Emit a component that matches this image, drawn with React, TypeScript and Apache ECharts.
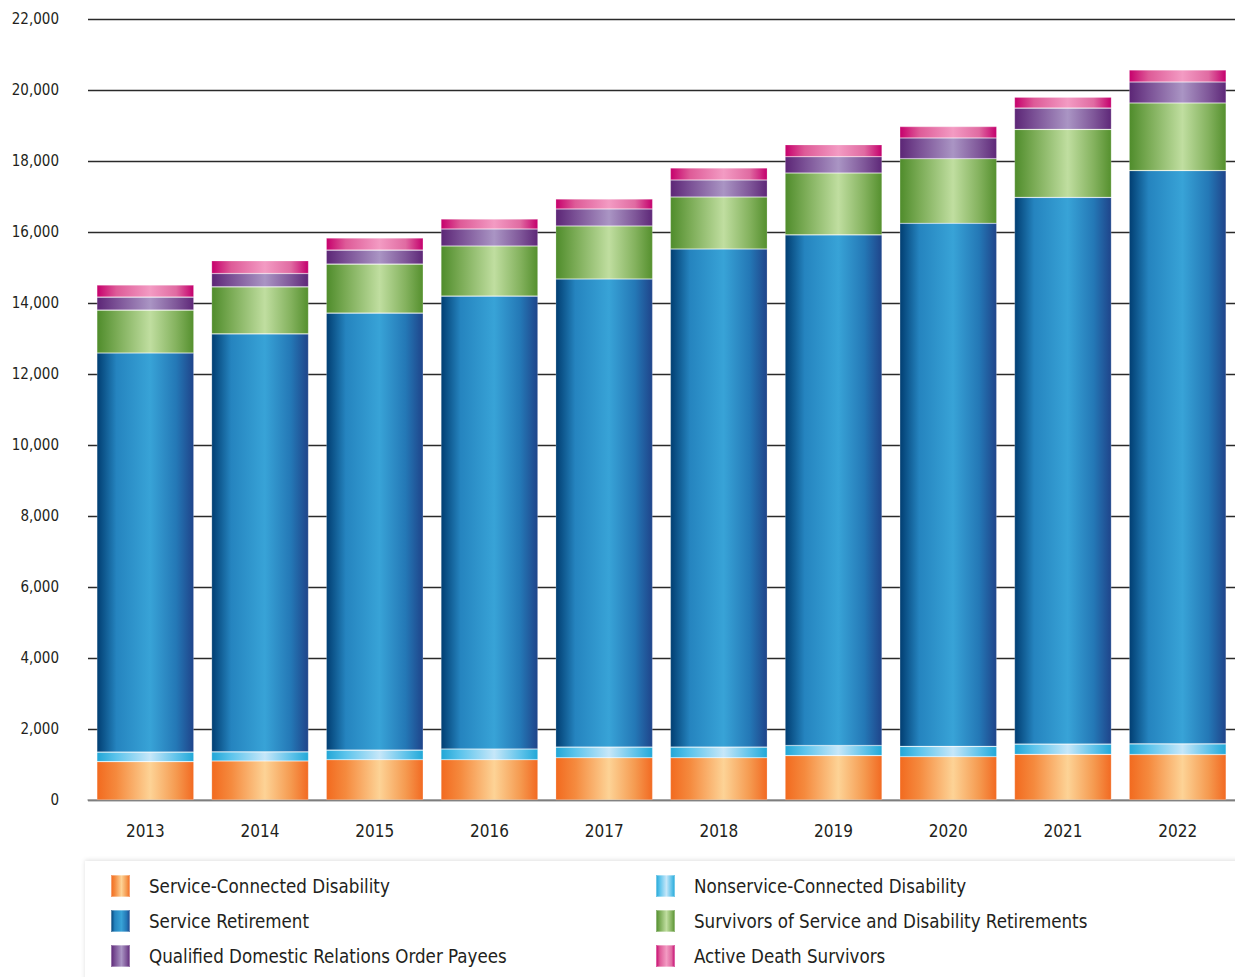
import React, { useEffect, useRef } from "react";
import * as echarts from "echarts";

const years = ["2013", "2014", "2015", "2016", "2017", "2018", "2019", "2020", "2021", "2022"];
const serviceConnected = [1080, 1100, 1135, 1135, 1190, 1190, 1250, 1220, 1285, 1280];
const nonserviceConnected = [270, 255, 270, 300, 300, 300, 285, 290, 290, 300];
const serviceRetirement = [11240, 11775, 12310, 12760, 13185, 14030, 14385, 14735, 15400, 16150];
const survivors = [1210, 1325, 1380, 1410, 1495, 1465, 1740, 1820, 1915, 1905];
const qdro = [365, 375, 395, 480, 480, 480, 460, 585, 600, 590];
const activeDeath = [340, 360, 340, 280, 280, 340, 340, 320, 310, 340];
const yTicks = { min: 0, max: 22000, interval: 2000 };

const FONT = "'Liberation Sans Narrow', 'DejaVu Sans Condensed', Roboto, sans-serif";

function grad(edgeL: string, mid1: string, center: string, mid2: string, edgeR: string) {
  return new echarts.graphic.LinearGradient(0, 0, 1, 0, [
    { offset: 0, color: edgeL },
    { offset: 0.2, color: mid1 },
    { offset: 0.55, color: center },
    { offset: 0.82, color: mid2 },
    { offset: 1, color: edgeR },
  ]);
}

export default function App() {
  const ref = useRef<HTMLDivElement>(null);
  useEffect(() => {
    document.body.style.margin = "0";
    const chart = echarts.init(ref.current!, null, { renderer: "svg" });
    const mk = (name: string, data: number[], color: any) => ({
      name,
      type: "bar",
      stack: "total",
      data,
      barWidth: 97,
      itemStyle: { color, borderColor: "rgba(255,255,255,0.35)", borderWidth: 0.6 },
    });
    const cOrange = grad("#f26a1f", "#f58a3e", "#fdd396", "#f59a50", "#f26a22");
    const cLight = grad("#22a6d6", "#5cc4ec", "#c6e7f9", "#60c3ea", "#22a8d8");
    const cBlue = grad("#013e72", "#2584bf", "#38a3d7", "#2478b6", "#1f448a");
    const cGreen = grad("#4f8c2b", "#7aab55", "#c0dea0", "#84b25e", "#55902e");
    const cPurple = grad("#5c2676", "#7a5095", "#aa95c4", "#7f5799", "#5e2878");
    const cPink = grad("#c6006c", "#de5b98", "#f39bc3", "#e06ba2", "#c4006d");
    const legendText = { fontSize: 18.6, lineHeight: 22, color: "#231f20", fontFamily: FONT, padding: [0, 0, 0, 14] };
    const legendBase = {
      orient: "vertical",
      top: 874,
      height: 100,
      padding: 0,
      itemWidth: 19,
      itemHeight: 22,
      itemGap: 11,
      icon: "rect",
      textStyle: legendText,
      selectedMode: false,
    };
    chart.setOption({
      animation: false,
      backgroundColor: "#ffffff",
      grid: { left: 88, right: -2, top: 19, bottom: 177, containLabel: false },
      legend: [
        {
          ...legendBase,
          left: 110,
          data: ["Service-Connected Disability", "Service Retirement", "Qualified Domestic Relations Order Payees"],
        },
        {
          ...legendBase,
          left: 655,
          data: ["Nonservice-Connected Disability", "Survivors of Service and Disability Retirements", "Active Death Survivors"],
        },
      ],
      graphic: [
        {
          type: "rect",
          z: -1,
          shape: { x: 85, y: 861, width: 1160, height: 130 },
          style: { fill: "#ffffff", shadowBlur: 4, shadowColor: "rgba(0,0,0,0.12)", shadowOffsetY: -1 },
          silent: true,
        },
      ],
      xAxis: {
        type: "category",
        data: years,
        axisLine: { show: true, lineStyle: { color: "#9a9a9a", width: 1.5 } },
        axisTick: { show: false },
        axisLabel: { fontSize: 17, color: "#231f20", fontFamily: FONT, margin: 22 },
      },
      yAxis: {
        type: "value",
        min: yTicks.min,
        max: yTicks.max,
        interval: yTicks.interval,
        axisLine: { show: false },
        axisTick: { show: false },
        splitLine: { show: true, lineStyle: { color: "#2a2a2a", width: 1.3 } },
        axisLabel: {
          fontSize: 15,
          color: "#231f20",
          fontFamily: FONT,
          margin: 29,
          formatter: (v: number) => v.toLocaleString("en-US"),
        },
      },
      series: [
        mk("Service-Connected Disability", serviceConnected, cOrange),
        mk("Nonservice-Connected Disability", nonserviceConnected, cLight),
        mk("Service Retirement", serviceRetirement, cBlue),
        mk("Survivors of Service and Disability Retirements", survivors, cGreen),
        mk("Qualified Domestic Relations Order Payees", qdro, cPurple),
        mk("Active Death Survivors", activeDeath, cPink),
      ],
    });
    return () => chart.dispose();
  }, []);
  return <div ref={ref} style={{ width: 1235, height: 977 }} />;
}
